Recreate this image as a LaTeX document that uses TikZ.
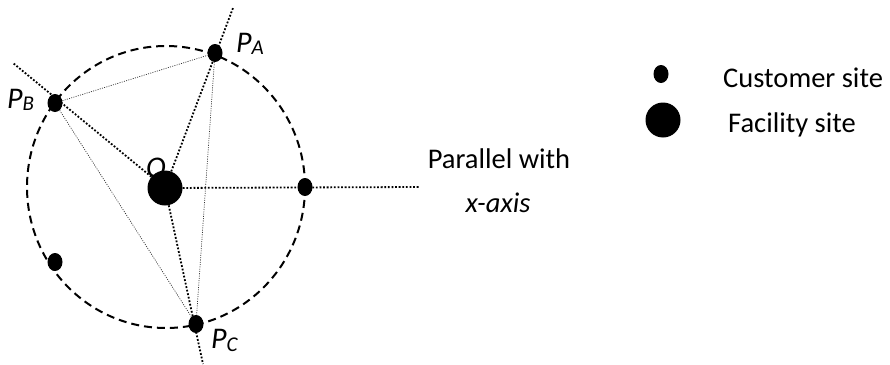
\documentclass[tikz,border=0pt]{standalone}
\usepackage{fontspec}
\setmainfont{Carlito}
\usetikzlibrary{shapes.geometric}
\begin{document}
\begin{tikzpicture}[x=1pt,y=-1pt,
  custdot/.style={ellipse,fill=black,draw=none,minimum width=15pt,minimum height=18pt,inner sep=0pt},
  facdot/.style={circle,fill=black,draw=none,minimum size=35pt,inner sep=0pt},
  heavydot/.style={line width=1.8pt,dash pattern=on 1.8pt off 1.8pt},
  lightdot/.style={line width=0.7pt,dash pattern=on 1pt off 1.3pt,black!80},
  dashcirc/.style={line width=2pt,dash pattern=on 8pt off 5pt},
  lbl/.style={inner sep=0pt,anchor=base west,font=\fontsize{30}{30}\selectfont\itshape},
  txt/.style={inner sep=0pt,font=\fontsize{28.5}{34}\selectfont}]
\useasboundingbox (0,0) rectangle (890,364);
\coordinate (ctr) at (166,187);
\draw[dashcirc] (ctr) ellipse [x radius=139, y radius=141];
% nodes
\node[facdot] (O) at (165,188) {};
\node[custdot] (PA) at (215,53) {};
\node[custdot] (PB) at (55,103) {};
\node[custdot] (PC) at (196,324) {};
\node[custdot] (c1) at (305,187) {};
\node[custdot] (c2) at (55,262) {};
\coordinate (eA) at (233,8);
\coordinate (eB) at (13,63);
\coordinate (eC) at (203,364);
\coordinate (eR) at (419,187);
% connectors
\draw[heavydot] (O) -- (eA);
\draw[heavydot] (O) -- (eB);
\draw[heavydot] (O) -- (eC);
\draw[heavydot] (O) -- (eR);
\draw[lightdot] (PB) -- (PA);
\draw[lightdot] (PB) -- (PC);
\draw[lightdot] (PA) -- (PC);
% labels
\node[lbl] (lA) at (236,52) {P\raisebox{-2pt}{\fontsize{21}{21}\selectfont A}};
\node[lbl] (lB) at (7,108) {P\raisebox{-2pt}{\fontsize{21}{21}\selectfont B}};
\node[lbl] (lC) at (211,348) {P\raisebox{-3pt}{\fontsize{21}{21}\selectfont C}};
\node[lbl] (lO) at (146,177) {O};
\node[txt,anchor=base] (par) at (499,168) {Parallel with};
\node[txt,anchor=base] (xax) at (498,212) {\itshape x-axis};
% legend
\node[custdot] (legc) at (661,74) {};
\node[facdot] (legf) at (663,120) {};
\node[txt,anchor=base west] (tc) at (723,87) {Customer site};
\node[txt,anchor=base west] (tf) at (728,132) {Facility site};
\end{tikzpicture}
\end{document}
